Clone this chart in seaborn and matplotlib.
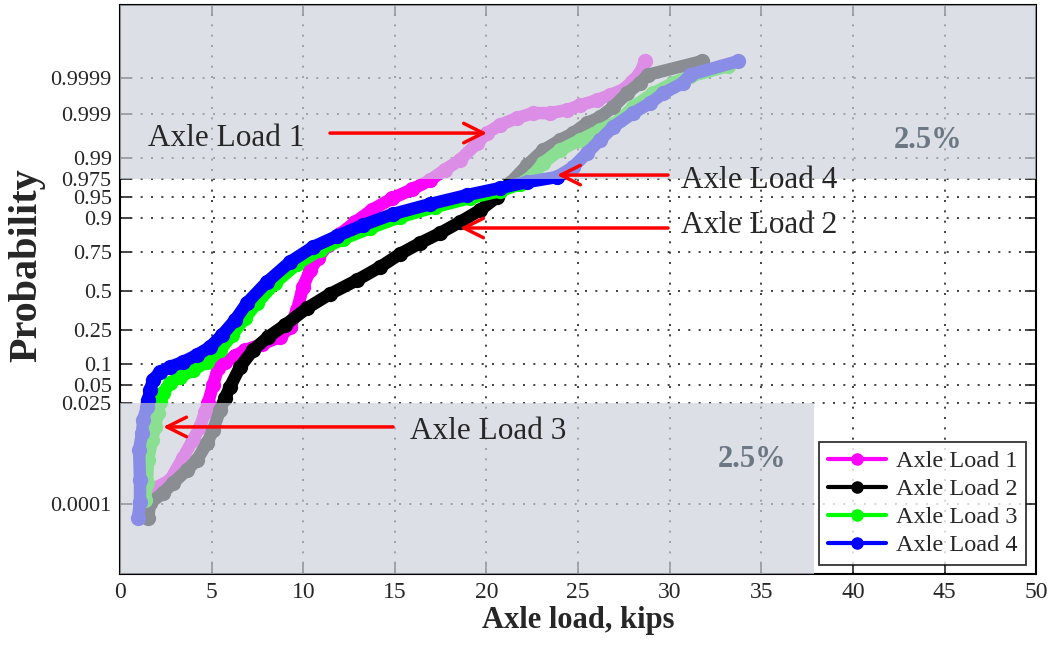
import matplotlib
matplotlib.use('Agg')
import matplotlib.pyplot as plt
import seaborn as sns
import pandas as pd
from statistics import NormalDist
from matplotlib.lines import Line2D

# values
load1_kips = [1.91, 2.73, 3.44, 3.98, 4.37, 4.64, 4.80, 5.08, 5.35, 5.73, 6.28, 6.82, 7.75, 8.73,
              9.28, 9.66, 9.99, 10.37, 10.81, 11.35, 12.01, 12.83, 13.76, 14.85, 15.94, 16.92,
              17.74, 18.56, 19.49, 20.03, 20.74, 21.67, 22.54, 23.47, 24.40, 25.11, 26.04, 26.75,
              27.46, 28.00, 28.38, 28.66]
load1_prob = [0.00029, 0.00048, 0.0018, 0.0047, 0.0089, 0.0174, 0.0253, 0.0505, 0.0895, 0.1075,
              0.128, 0.151, 0.177, 0.211, 0.265, 0.37, 0.53, 0.64, 0.72, 0.79, 0.84, 0.885,
              0.922, 0.947, 0.962, 0.9735, 0.983, 0.9889, 0.9951, 0.99708, 0.99813, 0.99874,
              0.99905, 0.99905, 0.99921, 0.99941, 0.99957, 0.99969, 0.99978, 0.99988, 0.99993,
              0.99997]

load2_kips = [1.53, 1.64, 2.35, 2.89, 3.66, 4.20, 4.75, 5.08, 5.46, 5.73, 6.00, 6.55, 7.26, 8.08,
              9.01, 10.21, 11.46, 12.94, 14.19, 15.28, 16.38, 17.47, 18.56, 19.65, 20.58, 21.29,
              22.22, 23.09, 24.02, 24.73, 25.49, 26.20, 26.91, 27.67, 28.38, 28.82, 31.77]
load2_prob = [0.0000375, 0.000108, 0.00021, 0.0004, 0.00089, 0.0016, 0.004, 0.0076, 0.019, 0.031,
              0.047, 0.0924, 0.1515, 0.211, 0.2765, 0.383, 0.479, 0.576, 0.662, 0.741, 0.799,
              0.844, 0.886, 0.921, 0.9495, 0.9703, 0.986, 0.993, 0.9958, 0.99708, 0.99832,
              0.99880, 0.99934, 0.99972, 0.99986, 0.99992, 0.99997]

load3_kips = [1.36, 1.47, 1.53, 1.75, 1.91, 2.07, 2.18, 2.35, 2.73, 3.28, 3.98, 4.75, 5.46, 6.11,
              6.82, 7.48, 8.46, 9.66, 10.92, 12.17, 13.65, 15.28, 17.19, 19.10, 20.74, 21.83,
              22.54, 23.09, 24.02, 25.11, 26.20, 27.29, 28.00, 29.09, 30.19, 31.11, 33.19]
load3_prob = [0.000133, 0.0004, 0.0016, 0.0047, 0.0088, 0.0166, 0.0264, 0.0375, 0.0542, 0.0668,
              0.084, 0.1077, 0.1515, 0.221, 0.319, 0.417, 0.556, 0.681, 0.763, 0.818, 0.864,
              0.9016, 0.9287, 0.9477, 0.9595, 0.969, 0.9785, 0.9873, 0.9931, 0.9958, 0.99752,
              0.99858, 0.99934, 0.99972, 0.99986, 0.99991, 0.999957]

load4_kips = [0.98, 1.09, 1.09, 1.04, 1.20, 1.26, 1.47, 1.53, 1.64, 1.80, 2.18, 2.73, 3.44, 4.20,
              4.91, 5.57, 6.28, 6.93, 8.02, 9.28, 10.53, 11.84, 13.26, 14.90, 16.92, 18.94,
              20.74, 22.22, 23.85, 24.73, 25.49, 26.20, 26.91, 28.00, 28.93, 29.64, 30.73, 31.11,
              33.73]
load4_prob = [0.0000375, 0.000117, 0.00048, 0.00276, 0.0066, 0.0122, 0.0215, 0.0287, 0.042, 0.060,
              0.0787, 0.0924, 0.1077, 0.132, 0.164, 0.221, 0.306, 0.417, 0.562, 0.694, 0.779,
              0.831, 0.875, 0.9105, 0.9355, 0.953, 0.9639, 0.9714, 0.9767, 0.9848, 0.992, 0.9958,
              0.99790, 0.99905, 0.99948, 0.99972, 0.99986, 0.99992, 0.99997]

series_names = ['Axle Load 1', 'Axle Load 2', 'Axle Load 3', 'Axle Load 4']
series_colors = ['#ff00ff', '#000000', '#00ff00', '#0000ff']
prob_ticks = [0.0001, 0.025, 0.05, 0.1, 0.25, 0.5, 0.75, 0.9, 0.95, 0.975, 0.99, 0.999, 0.9999]
prob_labels = ['0.0001', '0.025', '0.05', '0.1', '0.25', '0.5', '0.75', '0.9', '0.95',
               '0.975', '0.99', '0.999', '0.9999']
x_ticks = [0, 5, 10, 15, 20, 25, 30, 35, 40, 45, 50]

nd = NormalDist()
q = nd.inv_cdf

frames = []
for name, xs, ps in zip(series_names,
                        [load1_kips, load2_kips, load3_kips, load4_kips],
                        [load1_prob, load2_prob, load3_prob, load4_prob]):
    frames.append(pd.DataFrame({'Axle load': xs, 'Probability': ps, 'Series': name}))
data = pd.concat(frames, ignore_index=True)
data['Quantile'] = [q(p) for p in data['Probability']]

sns.set_style('ticks')
plt.rcParams['font.family'] = ['Liberation Serif', 'DejaVu Serif']

fig = plt.figure(figsize=(10.53, 6.46), dpi=100)
ax = fig.add_axes([0.114, 0.1115, 0.870, 0.8805])

palette = dict(zip(series_names, series_colors))
sns.lineplot(data=data, x='Axle load', y='Quantile', hue='Series', palette=palette,
             sort=False, estimator=None, marker='o', markersize=11, markeredgewidth=0,
             linewidth=9, legend=False, ax=ax, zorder=2)

ax.set_xlim(0, 50)
ax.set_ylim(-4.94, 4.99)
ax.set_xticks(x_ticks)
ax.set_yticks([q(p) for p in prob_ticks])
ax.set_yticklabels(prob_labels)
ax.tick_params(direction='in', length=8, width=1.2, top=True, right=True, labelsize=16, pad=6)
ax.tick_params(axis='x', labelsize=17)
ax.grid(True, color='#222222', linestyle=(0, (1.2, 5)), linewidth=1.2)
for s in ax.spines.values():
    s.set_linewidth(1.5)
    s.set_color('black')

# shaded 2.5 % tails, drawn over the curves
shade = '#ccd1d9'
ax.axhspan(q(0.975), 4.99, xmin=0, xmax=1, color=shade, alpha=0.68, zorder=3, lw=0)
ax.axhspan(-4.94, q(0.025), xmin=0, xmax=37.9 / 50, color=shade, alpha=0.68, zorder=3, lw=0)
ax.text(44.1, 2.635, '2.5%', color='#6b7884', fontsize=22, fontweight='bold',
        ha='center', va='center', zorder=4)
ax.text(34.5, -2.95, '2.5%', color='#6b7884', fontsize=22, fontweight='bold',
        ha='center', va='center', zorder=4)

# labels with red arrows
arrows = [
    ('Axle Load 1', (1.53, 2.67), (11.46, 2.757), (20.03, 2.757)),
    ('Axle Load 4', (30.62, 1.937), (29.91, 2.024), (23.85, 2.024)),
    ('Axle Load 2', (30.62, 1.152), (29.91, 1.10), (18.56, 1.10)),
    ('Axle Load 3', (15.83, -2.46), (14.90, -2.373), (2.35, -2.373)),
]
for label, tpos, tail, tip in arrows:
    ax.text(tpos[0], tpos[1], label, fontsize=22.5, ha='left', va='center', zorder=5)
    ax.annotate('', xy=tip, xytext=tail, zorder=5,
                arrowprops=dict(arrowstyle='->', color='red', lw=2.5, mutation_scale=35,
                                shrinkA=0, shrinkB=0))

handles = [Line2D([], [], color=c, lw=3, marker='o', markersize=8) for c in series_colors]
leg = ax.legend(handles, series_names, loc='lower right', bbox_to_anchor=(0.989, 0.016),
                borderaxespad=0, fontsize=17.5, frameon=True, fancybox=False, handlelength=2.4,
                labelspacing=0.25, borderpad=0.35, handletextpad=0.4)
leg.get_frame().set_edgecolor('black')
leg.get_frame().set_linewidth(1.3)
leg.set_zorder(6)

ax.set_xlabel('Axle load, kips', fontsize=22, fontweight='bold', labelpad=2)
ax.set_ylabel('Probability', fontsize=29, fontweight='bold', labelpad=2)
ax.yaxis.set_label_coords(-0.081, 0.543)

fig.savefig('out.png', dpi=100)
